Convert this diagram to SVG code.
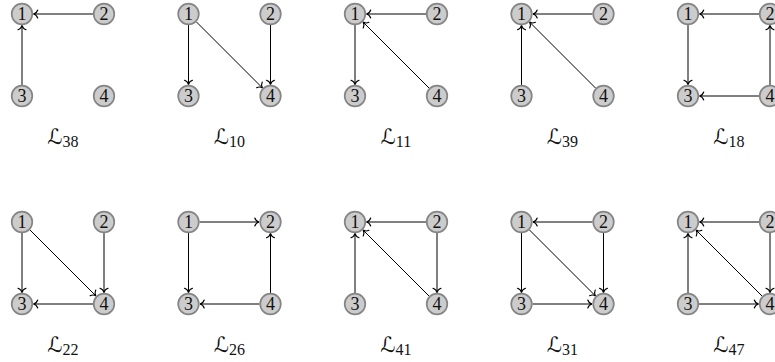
<svg xmlns="http://www.w3.org/2000/svg" width="775" height="362" viewBox="0 0 775 362">
  <defs>
    <marker id="to" viewBox="-6 -6 8 12" markerWidth="8" markerHeight="12" refX="0" refY="0" orient="auto" markerUnits="userSpaceOnUse">
      <path d="M -4.2 -4 C -3.4 -1.7 -1.5 -0.35 0 0 C -1.5 0.35 -3.4 1.7 -4.2 4" fill="none" stroke="#000" stroke-width="1.15" stroke-linecap="round"/>
    </marker>
  </defs>
  <style>
    circle.n { fill: #cccccc; stroke: #858585; stroke-width: 1.7; }
    text.n { font-family: "Liberation Serif", "DejaVu Serif", serif; font-size: 18px; fill: #111; text-anchor: middle; }
    .edges line { stroke: #000; stroke-width: 1; marker-end: url(#to); }
    text.label { font-family: "DejaVu Sans", "DejaVu Serif", sans-serif; font-size: 21px; fill: #111; text-anchor: middle; }
    text.label tspan { font-family: "Liberation Serif", "DejaVu Serif", serif; font-size: 16px; }
  </style>

  <!-- Row 1 -->
  <g id="L38" transform="translate(22,14)">
    <g class="edges">
      <line x1="71" y1="0" x2="11.5" y2="0"/>
      <line x1="0" y1="71" x2="0" y2="11.5"/>
    </g>
    <g id="L38-1"><circle class="n" cx="0" cy="0" r="10.3"/><text class="n" x="0" y="6">1</text></g>
    <g id="L38-2"><circle class="n" cx="82" cy="0" r="10.3"/><text class="n" x="82" y="6">2</text></g>
    <g id="L38-3"><circle class="n" cx="0" cy="82" r="10.3"/><text class="n" x="0" y="88">3</text></g>
    <g id="L38-4"><circle class="n" cx="82" cy="82" r="10.3"/><text class="n" x="82" y="88">4</text></g>
    <text class="label" x="41" y="130">ℒ<tspan dy="3">38</tspan></text>
  </g>

  <g id="L10" transform="translate(188.5,14)">
    <g class="edges">
      <line x1="0" y1="11" x2="0" y2="70.5"/>
      <line x1="7.8" y1="7.8" x2="73.9" y2="73.9"/>
      <line x1="82" y1="11" x2="82" y2="70.5"/>
    </g>
    <g id="L10-1"><circle class="n" cx="0" cy="0" r="10.3"/><text class="n" x="0" y="6">1</text></g>
    <g id="L10-2"><circle class="n" cx="82" cy="0" r="10.3"/><text class="n" x="82" y="6">2</text></g>
    <g id="L10-3"><circle class="n" cx="0" cy="82" r="10.3"/><text class="n" x="0" y="88">3</text></g>
    <g id="L10-4"><circle class="n" cx="82" cy="82" r="10.3"/><text class="n" x="82" y="88">4</text></g>
    <text class="label" x="41" y="130">ℒ<tspan dy="3">10</tspan></text>
  </g>

  <g id="L11" transform="translate(355,14)">
    <g class="edges">
      <line x1="71" y1="0" x2="11.5" y2="0"/>
      <line x1="0" y1="11" x2="0" y2="70.5"/>
      <line x1="74.2" y1="74.2" x2="8.1" y2="8.1"/>
    </g>
    <g id="L11-1"><circle class="n" cx="0" cy="0" r="10.3"/><text class="n" x="0" y="6">1</text></g>
    <g id="L11-2"><circle class="n" cx="82" cy="0" r="10.3"/><text class="n" x="82" y="6">2</text></g>
    <g id="L11-3"><circle class="n" cx="0" cy="82" r="10.3"/><text class="n" x="0" y="88">3</text></g>
    <g id="L11-4"><circle class="n" cx="82" cy="82" r="10.3"/><text class="n" x="82" y="88">4</text></g>
    <text class="label" x="41" y="130">ℒ<tspan dy="3">11</tspan></text>
  </g>

  <g id="L39" transform="translate(521.5,14)">
    <g class="edges">
      <line x1="71" y1="0" x2="11.5" y2="0"/>
      <line x1="0" y1="71" x2="0" y2="11.5"/>
      <line x1="74.2" y1="74.2" x2="8.1" y2="8.1"/>
    </g>
    <g id="L39-1"><circle class="n" cx="0" cy="0" r="10.3"/><text class="n" x="0" y="6">1</text></g>
    <g id="L39-2"><circle class="n" cx="82" cy="0" r="10.3"/><text class="n" x="82" y="6">2</text></g>
    <g id="L39-3"><circle class="n" cx="0" cy="82" r="10.3"/><text class="n" x="0" y="88">3</text></g>
    <g id="L39-4"><circle class="n" cx="82" cy="82" r="10.3"/><text class="n" x="82" y="88">4</text></g>
    <text class="label" x="41" y="130">ℒ<tspan dy="3">39</tspan></text>
  </g>

  <g id="L18" transform="translate(688,14)">
    <g class="edges">
      <line x1="71" y1="0" x2="11.5" y2="0"/>
      <line x1="0" y1="11" x2="0" y2="70.5"/>
      <line x1="71" y1="82" x2="11.5" y2="82"/>
      <line x1="82" y1="71" x2="82" y2="11.5"/>
    </g>
    <g id="L18-1"><circle class="n" cx="0" cy="0" r="10.3"/><text class="n" x="0" y="6">1</text></g>
    <g id="L18-2"><circle class="n" cx="82" cy="0" r="10.3"/><text class="n" x="82" y="6">2</text></g>
    <g id="L18-3"><circle class="n" cx="0" cy="82" r="10.3"/><text class="n" x="0" y="88">3</text></g>
    <g id="L18-4"><circle class="n" cx="82" cy="82" r="10.3"/><text class="n" x="82" y="88">4</text></g>
    <text class="label" x="41" y="130">ℒ<tspan dy="3">18</tspan></text>
  </g>

  <!-- Row 2 -->
  <g id="L22" transform="translate(22,222)">
    <g class="edges">
      <line x1="0" y1="11" x2="0" y2="70.5"/>
      <line x1="7.8" y1="7.8" x2="73.9" y2="73.9"/>
      <line x1="82" y1="11" x2="82" y2="70.5"/>
      <line x1="71" y1="82" x2="11.5" y2="82"/>
    </g>
    <g id="L22-1"><circle class="n" cx="0" cy="0" r="10.3"/><text class="n" x="0" y="6">1</text></g>
    <g id="L22-2"><circle class="n" cx="82" cy="0" r="10.3"/><text class="n" x="82" y="6">2</text></g>
    <g id="L22-3"><circle class="n" cx="0" cy="82" r="10.3"/><text class="n" x="0" y="88">3</text></g>
    <g id="L22-4"><circle class="n" cx="82" cy="82" r="10.3"/><text class="n" x="82" y="88">4</text></g>
    <text class="label" x="41" y="130">ℒ<tspan dy="3">22</tspan></text>
  </g>

  <g id="L26" transform="translate(188.5,222)">
    <g class="edges">
      <line x1="11" y1="0" x2="70.5" y2="0"/>
      <line x1="0" y1="11" x2="0" y2="70.5"/>
      <line x1="71" y1="82" x2="11.5" y2="82"/>
      <line x1="82" y1="71" x2="82" y2="11.5"/>
    </g>
    <g id="L26-1"><circle class="n" cx="0" cy="0" r="10.3"/><text class="n" x="0" y="6">1</text></g>
    <g id="L26-2"><circle class="n" cx="82" cy="0" r="10.3"/><text class="n" x="82" y="6">2</text></g>
    <g id="L26-3"><circle class="n" cx="0" cy="82" r="10.3"/><text class="n" x="0" y="88">3</text></g>
    <g id="L26-4"><circle class="n" cx="82" cy="82" r="10.3"/><text class="n" x="82" y="88">4</text></g>
    <text class="label" x="41" y="130">ℒ<tspan dy="3">26</tspan></text>
  </g>

  <g id="L41" transform="translate(355,222)">
    <g class="edges">
      <line x1="71" y1="0" x2="11.5" y2="0"/>
      <line x1="0" y1="71" x2="0" y2="11.5"/>
      <line x1="74.2" y1="74.2" x2="8.1" y2="8.1"/>
      <line x1="82" y1="11" x2="82" y2="70.5"/>
    </g>
    <g id="L41-1"><circle class="n" cx="0" cy="0" r="10.3"/><text class="n" x="0" y="6">1</text></g>
    <g id="L41-2"><circle class="n" cx="82" cy="0" r="10.3"/><text class="n" x="82" y="6">2</text></g>
    <g id="L41-3"><circle class="n" cx="0" cy="82" r="10.3"/><text class="n" x="0" y="88">3</text></g>
    <g id="L41-4"><circle class="n" cx="82" cy="82" r="10.3"/><text class="n" x="82" y="88">4</text></g>
    <text class="label" x="41" y="130">ℒ<tspan dy="3">41</tspan></text>
  </g>

  <g id="L31" transform="translate(521.5,222)">
    <g class="edges">
      <line x1="71" y1="0" x2="11.5" y2="0"/>
      <line x1="0" y1="11" x2="0" y2="70.5"/>
      <line x1="7.8" y1="7.8" x2="73.9" y2="73.9"/>
      <line x1="82" y1="11" x2="82" y2="70.5"/>
      <line x1="11" y1="82" x2="70.5" y2="82"/>
    </g>
    <g id="L31-1"><circle class="n" cx="0" cy="0" r="10.3"/><text class="n" x="0" y="6">1</text></g>
    <g id="L31-2"><circle class="n" cx="82" cy="0" r="10.3"/><text class="n" x="82" y="6">2</text></g>
    <g id="L31-3"><circle class="n" cx="0" cy="82" r="10.3"/><text class="n" x="0" y="88">3</text></g>
    <g id="L31-4"><circle class="n" cx="82" cy="82" r="10.3"/><text class="n" x="82" y="88">4</text></g>
    <text class="label" x="41" y="130">ℒ<tspan dy="3">31</tspan></text>
  </g>

  <g id="L47" transform="translate(688,222)">
    <g class="edges">
      <line x1="71" y1="0" x2="11.5" y2="0"/>
      <line x1="0" y1="71" x2="0" y2="11.5"/>
      <line x1="74.2" y1="74.2" x2="8.1" y2="8.1"/>
      <line x1="82" y1="11" x2="82" y2="70.5"/>
      <line x1="11" y1="82" x2="70.5" y2="82"/>
    </g>
    <g id="L47-1"><circle class="n" cx="0" cy="0" r="10.3"/><text class="n" x="0" y="6">1</text></g>
    <g id="L47-2"><circle class="n" cx="82" cy="0" r="10.3"/><text class="n" x="82" y="6">2</text></g>
    <g id="L47-3"><circle class="n" cx="0" cy="82" r="10.3"/><text class="n" x="0" y="88">3</text></g>
    <g id="L47-4"><circle class="n" cx="82" cy="82" r="10.3"/><text class="n" x="82" y="88">4</text></g>
    <text class="label" x="41" y="130">ℒ<tspan dy="3">47</tspan></text>
  </g>
</svg>
